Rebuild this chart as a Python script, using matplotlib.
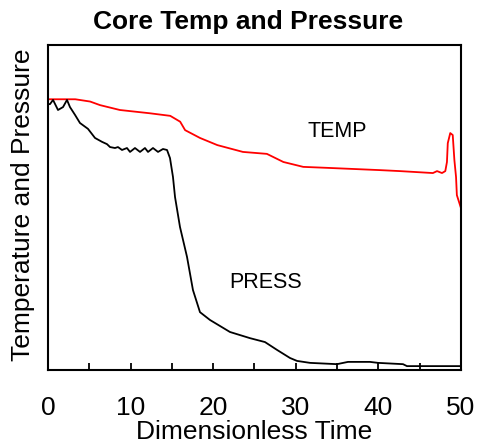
import matplotlib
matplotlib.use('Agg')
import matplotlib.pyplot as plt

# Данные (время безразмерное, значения в условных единицах 0..100)
temp_t = [0, 3.3, 5.1, 6.3, 8.7, 12.3, 14.8, 16.0, 16.6, 18.4, 20.5, 23.6, 26.5, 28.5,
          30.9, 33.8, 40.2, 42.6, 46.6, 47.1, 47.7, 48.1, 48.3, 48.4, 48.7, 49.0,
          49.2, 49.4, 49.5, 49.8, 50]
temp_v = [83.3, 83.3, 82.6, 81.5, 80.0, 79.0, 78.2, 76.4, 73.8, 71.4, 69.2, 67.1, 66.5, 64.0,
          62.5, 62.2, 61.5, 61.2, 60.6, 61.2, 60.6, 61.2, 64.0, 69.8, 72.9, 72.3,
          64.6, 59.4, 53.8, 51.4, 49.8]

press_t = [0, 0.24, 0.61, 1.21, 1.82, 2.30, 2.66, 3.27, 3.87, 4.84, 5.69, 6.54, 7.14, 7.51,
           8.11, 8.47, 8.96, 9.56, 9.93, 10.53, 11.14, 11.74, 12.11, 12.71, 13.32, 13.92,
           14.41, 14.77, 15.13, 15.38, 15.98, 16.83, 17.55, 18.40, 19.61, 22.03, 24.46,
           26.27, 27.72, 29.30, 30.15, 31.72, 34.99, 36.32, 38.98, 39.95, 42.98, 43.46, 50]
press_v = [81.8, 81.8, 83.1, 80.0, 80.9, 83.1, 80.9, 78.5, 76.0, 74.2, 71.4, 70.2, 69.5, 68.6,
           68.3, 68.6, 67.7, 68.3, 67.1, 68.3, 67.1, 68.3, 67.1, 68.3, 67.1, 68.0,
           67.7, 65.2, 59.4, 53.2, 44.0, 34.8, 24.6, 17.8, 15.4, 11.7, 9.8,
           8.6, 6.2, 3.7, 2.8, 2.2, 1.8, 2.5, 2.5, 2.2, 1.8, 1.2, 1.2]

xticks = [0, 10, 20, 30, 40, 50]

plt.rcParams['font.family'] = ['Liberation Sans', 'DejaVu Sans']

fig = plt.figure(figsize=(4.8, 4.45), dpi=100)
ax = fig.add_axes([0.1, 0.1685, 0.8604, 0.7304])

ax.plot(temp_t, temp_v, color='red', lw=1.3)
ax.plot(press_t, press_v, color='black', lw=1.3)

ax.text(35, 73.5, 'TEMP', fontsize=15.5, ha='center', va='center')
ax.text(26.3, 27, 'PRESS', fontsize=15.5, ha='center', va='center')

ax.set_xlim(0, 50)
ax.set_ylim(0, 100)
ax.set_xticks(xticks)
ax.set_xticks([5, 15, 25, 35, 45], minor=True)
ax.set_yticks([])
ax.tick_params(axis='x', which='both', direction='in', length=5, width=1.3, pad=19, labelsize=19)

for s in ax.spines.values():
    s.set_linewidth(1.5)

ax.set_xlabel('Dimensionless Time', fontsize=19)
ax.xaxis.set_label_coords(0.5, -0.155)
ax.set_ylabel('Temperature and Pressure', fontsize=19)
ax.yaxis.set_label_coords(-0.031, 0.51)

fig.text(248 / 480, 1 - 22 / 445, 'Core Temp and Pressure', fontsize=19, fontweight='bold',
         ha='center', va='center')

fig.savefig('out.png', dpi=100)
